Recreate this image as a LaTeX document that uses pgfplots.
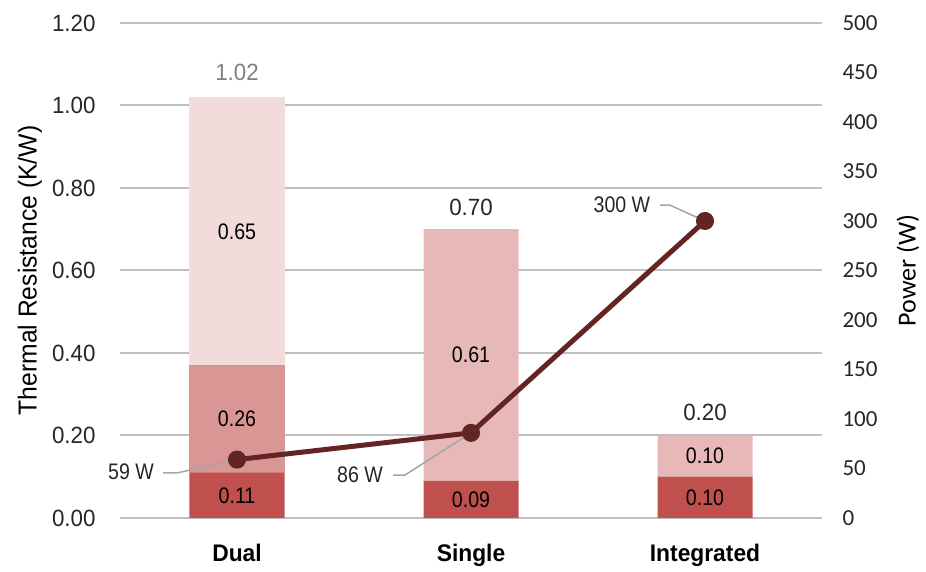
\documentclass[border=0pt]{standalone}
\usepackage{fontspec}
\setmainfont[FakeStretch=0.95]{Liberation Sans}
\newfontfamily\narrow[FakeStretch=0.87]{Liberation Sans}
\newfontfamily\carlito{Carlito}
\usepackage{pgfplots}
\pgfplotsset{compat=1.18}

\definecolor{barDark}{HTML}{C0504D}
\definecolor{barMid}{HTML}{D99694}
\definecolor{barLight}{HTML}{E6B9B8}
\definecolor{barPale}{HTML}{F2DCDB}
\definecolor{lineRed}{HTML}{632523}
\definecolor{gridGray}{HTML}{BFBFBF}
\definecolor{txt}{HTML}{262626}
\definecolor{leader}{HTML}{A6A6A6}

\begin{document}
\begin{tikzpicture}
\pgfplotsset{
  common/.style={
    width=702pt, height=495pt, scale only axis,
    xmin=-0.5, xmax=2.5,
    at={(0,0)}, anchor=south west,
    axis line style={draw=none},
    major tick length=0pt,
    clip=false,
  },
}
\path[use as bounding box] (-120pt,-54pt) rectangle (806pt,518pt);

\begin{axis}[common,
  ybar stacked, bar width=95pt,
  ymin=0, ymax=1.2,
  ytick={0,0.2,0.4,0.6,0.8,1.0,1.2},
  ymajorgrids, grid style={gridGray, line width=2pt},
  xtick={0,1,2}, xticklabels={Dual,Single,Integrated},
  xticklabel style={font=\bfseries\fontsize{24}{24}\selectfont, text=black, yshift=-23pt},
  yticklabel style={font=\fontsize{23.5}{23.5}\selectfont, text=txt, xshift=-21pt,
    /pgf/number format/.cd, fixed, zerofill, precision=2},
  /pgf/number format/assume math mode=true,
  ylabel={Thermal Resistance (K/W)},
  every axis y label/.style={at={(axis description cs:-0.1282,0.5)}, anchor=center, rotate=90,
    font=\fontsize{26}{26}\selectfont, text=black},
  nodes near coords={\pgfmathfloatifflags{\pgfplotspointmeta}{0}{}{\pgfmathprintnumber[fixed,zerofill,precision=2]{\pgfplotspointmeta}}},
  every node near coord/.append style={anchor=center,
    font=\narrow\fontsize{22.5}{22.5}\selectfont, text=black},
]
\addplot[fill=barDark, draw=none] table[x=x, y=v] {
x v
0 0.11
1 0.09
2 0.10
};
\addplot[fill=barMid, draw=none] table[x=x, y=v] {
x v
0 0.26
1 0
2 0
};
\addplot[fill=barLight, draw=none] table[x=x, y=v] {
x v
0 0
1 0.61
2 0.10
};
\addplot[fill=barPale, draw=none] table[x=x, y=v] {
x v
0 0.65
1 0
2 0
};
\node[font=\fontsize{23.5}{23.5}\selectfont, text=gray] at (axis cs:0,1.079) {1.02};
\node[font=\fontsize{23.5}{23.5}\selectfont, text=txt] at (axis cs:1,0.752) {0.70};
\node[font=\fontsize{23.5}{23.5}\selectfont, text=txt] at (axis cs:2,0.257) {0.20};
\end{axis}

\begin{axis}[common,
  ymin=0, ymax=500, ytick distance=50,
  axis y line*=right, axis x line=none,
  yticklabel style={font=\carlito\fontsize{23}{23}\selectfont, text=txt, xshift=17pt},
  /pgf/number format/assume math mode=true,
  ylabel={Power (W)},
  every axis y label/.style={at={(axis description cs:1.1225,0.5)}, anchor=center, rotate=90,
    font=\carlito\fontsize{26}{26}\selectfont, text=black},
]
\draw[leader, line width=1.5pt] (axis cs:-0.316,45.5) -- (axis cs:-0.256,45.5) -- (axis cs:0,59);
\draw[leader, line width=1.5pt] (axis cs:0.667,43.4) -- (axis cs:0.718,43.4) -- (axis cs:1,86);
\draw[leader, line width=1.5pt] (axis cs:1.808,316) -- (axis cs:1.850,316) -- (axis cs:2,300);
\addplot[lineRed, line width=5pt, mark=*, mark size=6.5pt, mark options={fill=lineRed, draw=none}] coordinates {
  (0,59) (1,86) (2,300)
};
\node[font=\narrow\fontsize{22.5}{22.5}\selectfont, text=txt] at (axis cs:-0.453,46.5) {59 W};
\node[font=\narrow\fontsize{22.5}{22.5}\selectfont, text=txt] at (axis cs:0.526,43.4) {86 W};
\node[font=\narrow\fontsize{22.5}{22.5}\selectfont, text=txt] at (axis cs:1.645,316) {300 W};
\end{axis}
\end{tikzpicture}
\end{document}
